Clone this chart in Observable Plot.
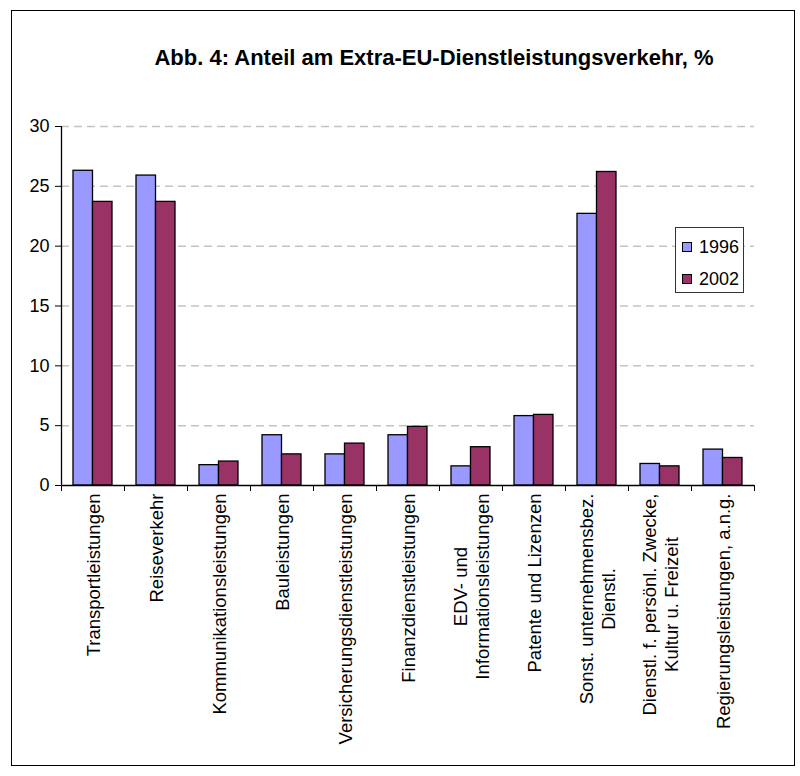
<!DOCTYPE html>
<html>
<head>
<meta charset="utf-8">
<script src="https://cdn.jsdelivr.net/npm/d3@7"></script>
<script src="https://cdn.jsdelivr.net/npm/@observablehq/plot@0.6"></script>
<style>
  html, body { margin: 0; padding: 0; background: #fff; }
  body { font-family: 'Liberation Sans', Arial, sans-serif; }
  #wrap { position: relative; width: 800px; height: 776px; overflow: hidden; }
  #frame { position: absolute; left: 11px; top: 10px; width: 784px; height: 756px; box-sizing: border-box; border: 1.5px solid #000; pointer-events: none; }
  #title { position: absolute; left: 0; width: 868px; top: 45px; text-align: center; font-weight: bold; font-size: 22px; line-height: 26px; color: #000; }
  #chart { position: absolute; left: 0; top: 0; }
  #legend { position: absolute; left: 675px; top: 227px; width: 69px; height: 66px; box-sizing: border-box; border: 1px solid #333; background: #fff; font-size: 18px; }
  .item { position: absolute; left: 6px; height: 20px; display: flex; align-items: center; }
  .sw { width: 10px; height: 10px; box-sizing: border-box; border: 1.5px solid #000; margin-right: 7px; }
</style>
</head>
<body>
<div id="wrap">
  <div id="chart"></div>
  <div id="frame"></div>
  <div id="title"></div>
  <div id="legend"></div>
</div>
<script>
const titleText = "Abb. 4: Anteil am Extra-EU-Dienstleistungsverkehr, %";
const categories = [
  "Transportleistungen",
  "Reiseverkehr",
  "Kommunikationsleistungen",
  "Bauleistungen",
  "Versicherungsdienstleistungen",
  "Finanzdienstleistungen",
  "EDV- und\nInformationsleistungen",
  "Patente und Lizenzen",
  "Sonst. unternehmensbez.\nDienstl.",
  "Dienstl. f. persönl. Zwecke,\nKultur u. Freizeit",
  "Regierungsleistungen, a.n.g."
];
const series = ["1996", "2002"];
const values1996 = [26.3, 25.9, 1.7, 4.2, 2.6, 4.2, 1.6, 5.8, 22.7, 1.8, 3.0];
const values2002 = [23.7, 23.7, 2.0, 2.6, 3.5, 4.9, 3.2, 5.9, 26.2, 1.6, 2.3];
const yTicks = [0, 5, 10, 15, 20, 25, 30];
const colors = ["#9999FF", "#993366"];

const rows1996 = categories.map((c, i) => ({cat: c, value: values1996[i]}));
const rows2002 = categories.map((c, i) => ({cat: c, value: values2002[i]}));

document.getElementById("title").textContent = titleText;

const W = 800, H = 776;
const mL = 61, mR = 46, mT = 126, mB = 291;
const bw = (W - mL - mR) / categories.length;
const labelFont = 18.5;

// measure label lines to place rotated, centred label blocks below the axis
const ctx = document.createElement("canvas").getContext("2d");
ctx.font = `${labelFont}px 'Liberation Sans'`;
const labelMarks = categories.map(c => {
  const maxW = d3.max(c.split("\n"), s => ctx.measureText(s).width);
  return Plot.text([c], {
    x: d => d, frameAnchor: "bottom", rotate: -90,
    textAnchor: "middle", lineAnchor: "middle", lineHeight: 1.2,
    fontSize: labelFont, fill: "#000", dy: 8 + maxW / 2
  });
});

const chart = Plot.plot({
  width: W, height: H,
  marginLeft: mL, marginRight: mR, marginTop: mT, marginBottom: mB,
  style: {fontFamily: "'Liberation Sans', Arial, sans-serif", fontSize: "18px", background: "transparent", color: "#000", overflow: "visible"},
  x: {domain: categories, padding: 0, axis: null},
  y: {domain: [0, 30], axis: null},
  marks: [
    Plot.ruleY(yTicks.filter(t => t > 0), {stroke: "#c4c4c4", strokeWidth: 1.5, strokeDasharray: "8,5"}),
    Plot.barY(rows1996, {x: "cat", y: "value", fill: colors[0], stroke: "#000", strokeWidth: 1.3, insetLeft: 12, insetRight: bw / 2}),
    Plot.barY(rows2002, {x: "cat", y: "value", fill: colors[1], stroke: "#000", strokeWidth: 1.3, insetLeft: bw / 2, insetRight: 12}),
    Plot.ruleY([0], {stroke: "#000", strokeWidth: 1.3}),
    Plot.ruleX([categories[0]], {stroke: "#000", strokeWidth: 1.3, dx: -bw / 2}),
    Plot.axisY({ticks: yTicks, tickSize: 6, tickPadding: 6, fontSize: 18, stroke: "#000", fill: "#000", label: null}),
    Plot.axisX({tickSize: 6, tickFormat: () => "", dx: -bw / 2, stroke: "#000", label: null}),
    Plot.axisX([categories[categories.length - 1]], {tickSize: 6, tickFormat: () => "", dx: bw / 2, stroke: "#000", label: null}),
    ...labelMarks
  ]
});
document.getElementById("chart").appendChild(chart);

const legend = document.getElementById("legend");
series.forEach((s, i) => {
  const item = document.createElement("div");
  item.className = "item";
  item.style.top = (i === 0 ? 9 : 41) + "px";
  const sw = document.createElement("div");
  sw.className = "sw";
  sw.style.background = colors[i];
  const t = document.createElement("span");
  t.textContent = s;
  item.appendChild(sw);
  item.appendChild(t);
  legend.appendChild(item);
});
</script>
</body>
</html>
